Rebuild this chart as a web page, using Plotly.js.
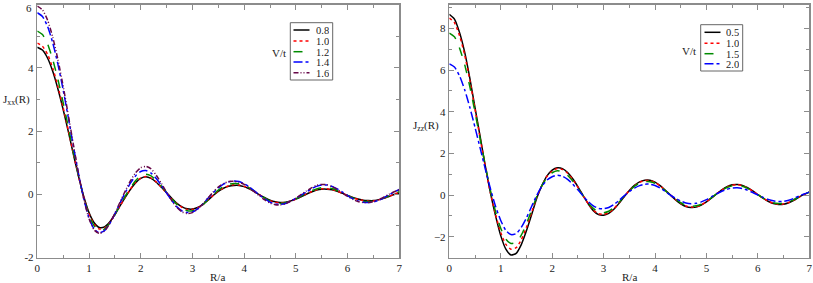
<!DOCTYPE html>
<html>
<head>
<meta charset="utf-8">
<script src="https://cdn.plot.ly/plotly-3.0.1.min.js"></script>
<style>html,body{margin:0;padding:0;background:#fff}#chart{width:813px;height:283px}</style>
</head>
<body>
<div id="chart"></div>
<script>
// R/a grid
var R = [0.0,0.1,0.2,0.3,0.4,0.5,0.6,0.7,0.8,0.9,
1.0,1.1,1.2,1.3,1.4,1.5,1.6,1.7,1.8,1.9,
2.0,2.1,2.2,2.3,2.4,2.5,2.6,2.7,2.8,2.9,
3.0,3.1,3.2,3.3,3.4,3.5,3.6,3.7,3.8,3.9,
4.0,4.1,4.2,4.3,4.4,4.5,4.6,4.7,4.8,4.9,
5.0,5.1,5.2,5.3,5.4,5.5,5.6,5.7,5.8,5.9,
6.0,6.1,6.2,6.3,6.4,6.5,6.6,6.7,6.8,6.9,
7.0];

// Left panel: Jxx(R) for V/t values
var jxxLabels = ["0.8","1.0","1.2","1.4","1.6"];
var jxxTicks = [-2, 0, 2, 4, 6];
var jxx_08 = [4.65,4.56,4.30,3.88,3.32,2.68,1.98,1.25,0.55,-0.08,
-0.58,-0.90,-1.05,-1.03,-0.88,-0.64,-0.37,-0.10,0.15,0.36,
0.50,0.55,0.50,0.38,0.22,0.05,-0.13,-0.29,-0.40,-0.46,
-0.47,-0.42,-0.32,-0.19,-0.04,0.09,0.19,0.25,0.28,0.28,
0.24,0.17,0.08,-0.02,-0.11,-0.19,-0.24,-0.26,-0.25,-0.21,
-0.15,-0.08,0.00,0.07,0.13,0.16,0.16,0.14,0.09,0.03,
-0.04,-0.10,-0.15,-0.19,-0.20,-0.20,-0.17,-0.13,-0.07,-0.01,
0.04];
var jxx_10 = [4.78,4.68,4.42,3.98,3.40,2.74,2.02,1.27,0.55,-0.10,
-0.62,-0.95,-1.10,-1.07,-0.90,-0.65,-0.37,-0.09,0.16,0.37,
0.51,0.56,0.51,0.39,0.22,0.04,-0.14,-0.30,-0.42,-0.48,
-0.48,-0.43,-0.33,-0.19,-0.04,0.10,0.20,0.27,0.30,0.29,
0.25,0.18,0.09,-0.02,-0.12,-0.20,-0.25,-0.27,-0.26,-0.22,
-0.15,-0.07,0.01,0.08,0.14,0.17,0.17,0.15,0.10,0.03,
-0.04,-0.11,-0.16,-0.20,-0.21,-0.21,-0.18,-0.13,-0.07,0.00,
0.06];
var jxx_12 = [5.16,5.05,4.75,4.25,3.62,2.90,2.12,1.32,0.56,-0.12,
-0.66,-1.00,-1.15,-1.10,-0.92,-0.65,-0.35,-0.06,0.20,0.43,
0.58,0.63,0.58,0.44,0.26,0.06,-0.14,-0.32,-0.45,-0.52,
-0.52,-0.45,-0.33,-0.18,-0.02,0.13,0.24,0.31,0.34,0.33,
0.28,0.20,0.10,-0.01,-0.12,-0.21,-0.27,-0.29,-0.27,-0.22,
-0.15,-0.06,0.03,0.11,0.17,0.21,0.21,0.18,0.12,0.04,
-0.04,-0.12,-0.18,-0.22,-0.23,-0.22,-0.18,-0.12,-0.05,0.02,
0.08];
var jxx_14 = [5.74,5.62,5.30,4.78,4.10,3.30,2.42,1.50,0.62,-0.15,
-0.75,-1.10,-1.22,-1.15,-0.93,-0.62,-0.28,0.05,0.35,0.58,
0.72,0.75,0.67,0.50,0.28,0.04,-0.20,-0.40,-0.53,-0.58,
-0.56,-0.46,-0.31,-0.13,0.05,0.20,0.32,0.39,0.42,0.40,
0.33,0.23,0.10,-0.03,-0.15,-0.25,-0.31,-0.32,-0.29,-0.22,
-0.13,-0.03,0.07,0.17,0.25,0.29,0.29,0.25,0.17,0.07,
-0.04,-0.14,-0.21,-0.25,-0.26,-0.24,-0.19,-0.11,-0.02,0.07,
0.15];
var jxx_16 = [5.95,5.83,5.50,4.96,4.25,3.42,2.50,1.55,0.63,-0.16,
-0.77,-1.13,-1.24,-1.16,-0.93,-0.60,-0.25,0.10,0.42,0.68,
0.84,0.88,0.80,0.60,0.34,0.06,-0.20,-0.42,-0.56,-0.61,
-0.58,-0.47,-0.31,-0.12,0.07,0.23,0.34,0.40,0.41,0.38,
0.31,0.20,0.07,-0.06,-0.18,-0.28,-0.33,-0.34,-0.30,-0.22,
-0.12,-0.01,0.10,0.20,0.28,0.31,0.30,0.24,0.15,0.04,
-0.07,-0.16,-0.23,-0.26,-0.26,-0.23,-0.17,-0.09,0.00,0.08,
0.14];

// Right panel: Jzz(R) for V/t values
var jzzLabels = ["0.5","1.0","1.5","2.0"];
var jzz_05 = [8.68,8.45,7.80,6.85,5.60,4.20,2.80,1.40,0.10,-1.00,
-1.95,-2.60,-2.88,-2.80,-2.38,-1.72,-0.95,-0.15,0.45,0.92,
1.20,1.31,1.27,1.08,0.78,0.40,-0.02,-0.42,-0.75,-0.94,
-0.97,-0.88,-0.68,-0.40,-0.08,0.22,0.46,0.63,0.71,0.71,
0.62,0.45,0.23,0.00,-0.23,-0.42,-0.55,-0.60,-0.58,-0.48,
-0.33,-0.14,0.06,0.25,0.40,0.49,0.51,0.46,0.35,0.20,
0.02,-0.15,-0.30,-0.41,-0.45,-0.44,-0.37,-0.25,-0.10,0.03,
0.14];
var jzz_10 = [8.50,8.28,7.65,6.72,5.50,4.12,2.74,1.36,0.10,-0.95,
-1.80,-2.37,-2.60,-2.53,-2.15,-1.55,-0.85,-0.12,0.45,0.90,
1.15,1.27,1.23,1.05,0.75,0.38,-0.03,-0.41,-0.72,-0.90,
-0.93,-0.85,-0.65,-0.38,-0.07,0.22,0.45,0.61,0.69,0.69,
0.60,0.44,0.22,0.00,-0.22,-0.40,-0.53,-0.58,-0.56,-0.47,
-0.32,-0.13,0.06,0.24,0.39,0.48,0.50,0.45,0.34,0.19,
0.02,-0.15,-0.29,-0.40,-0.44,-0.43,-0.36,-0.24,-0.10,0.03,
0.14];
var jzz_15 = [7.78,7.60,7.05,6.25,5.20,3.98,2.70,1.42,0.22,-0.80,
-1.60,-2.12,-2.33,-2.27,-1.93,-1.38,-0.73,-0.08,0.45,0.84,
1.07,1.17,1.12,0.95,0.67,0.33,-0.03,-0.37,-0.64,-0.81,
-0.85,-0.78,-0.60,-0.35,-0.06,0.20,0.42,0.57,0.64,0.64,
0.56,0.41,0.21,0.00,-0.20,-0.37,-0.49,-0.54,-0.52,-0.44,
-0.30,-0.12,0.06,0.22,0.36,0.44,0.46,0.42,0.32,0.18,
0.02,-0.14,-0.27,-0.37,-0.41,-0.40,-0.33,-0.22,-0.09,0.03,
0.14];
var jzz_20 = [6.30,6.15,5.72,5.05,4.20,3.25,2.25,1.25,0.30,-0.55,
-1.22,-1.70,-1.90,-1.85,-1.55,-1.10,-0.55,-0.02,0.42,0.72,
0.88,0.95,0.90,0.75,0.52,0.25,-0.04,-0.31,-0.52,-0.64,
-0.66,-0.60,-0.46,-0.26,-0.04,0.16,0.33,0.45,0.52,0.52,
0.46,0.34,0.17,0.00,-0.16,-0.29,-0.38,-0.42,-0.40,-0.33,
-0.22,-0.08,0.06,0.18,0.28,0.34,0.35,0.31,0.23,0.12,
0.00,-0.11,-0.21,-0.28,-0.31,-0.30,-0.25,-0.16,-0.05,0.05,
0.14];

var serif = "'Liberation Serif', 'Times New Roman', Times, serif";
var frame = "#8c8c8c";
var txt = "#222";
var W = 813, H = 283;

var colors = ["#000000", "#ff0000", "#008b00", "#0000ff", "#670748"];
var dashes = ["solid", "dot", "dash", "dashdot", "5px,2px,1px,2px,1px,2px"];

function tr(y, name, i, xa, ya) {
  return {x: R, y: y, name: name, mode: "lines", xaxis: xa, yaxis: ya, showlegend: false,
          line: {color: colors[i], width: 1.5, dash: dashes[i], shape: "spline", smoothing: 0.6}};
}
var data = [
  tr(jxx_08, jxxLabels[0], 0, "x", "y"),
  tr(jxx_10, jxxLabels[1], 1, "x", "y"),
  tr(jxx_12, jxxLabels[2], 2, "x", "y"),
  tr(jxx_14, jxxLabels[3], 3, "x", "y"),
  tr(jxx_16, jxxLabels[4], 4, "x", "y"),
  tr(jzz_05, jzzLabels[0], 0, "x2", "y2"),
  tr(jzz_10, jzzLabels[1], 1, "x2", "y2"),
  tr(jzz_15, jzzLabels[2], 2, "x2", "y2"),
  tr(jzz_20, jzzLabels[3], 3, "x2", "y2")
];

function xax(domain, anchor) {
  return {domain: domain, anchor: anchor, range: [0, 7], dtick: 1, tick0: 0,
    ticks: "inside", ticklen: 5, tickwidth: 1, tickcolor: frame,
    showline: true, linecolor: frame, linewidth: 1.5, mirror: "ticks",
    showgrid: false, zeroline: false, ticklabeloverflow: "allow",
    minor: {dtick: 0.5, ticks: "inside", ticklen: 3, tickcolor: frame, showgrid: false},
    tickfont: {family: serif, size: 11, color: txt}};
}
function yax(domain, anchor, range, dt) {
  return {domain: domain, anchor: anchor, range: range, dtick: dt, tick0: 0,
    ticks: "inside", ticklen: 5, tickwidth: 1, tickcolor: frame,
    showline: true, linecolor: frame, linewidth: 1.5, mirror: "ticks",
    showgrid: false, zeroline: false, ticklabeloverflow: "allow",
    minor: {dtick: dt / 2, ticks: "inside", ticklen: 3, tickcolor: frame, showgrid: false},
    tickfont: {family: serif, size: 11, color: txt}};
}
function px(x) { return x / W; }
function py(y) { return (H - y) / H; }

var shapes = [];
var annotations = [];
function ann(text, x, y, xanchor, size, h) {
  var a = {text: text, xref: "paper", yref: "paper", x: px(x), y: py(y), showarrow: false,
    xanchor: xanchor, yanchor: "middle", font: {family: serif, size: size || 11, color: txt}};
  if (h) { a.height = h; a.borderpad = 0; a.valign = "middle"; }
  annotations.push(a);
}
function legendBox(labels, box, rows, lineX, textX) {
  shapes.push({type: "rect", xref: "paper", yref: "paper", x0: px(box[0]), x1: px(box[1]),
    y0: py(box[2]), y1: py(box[3]), line: {color: "#666", width: 1}, fillcolor: "#fff", layer: "above"});
  for (var i = 0; i < labels.length; i++) {
    shapes.push({type: "line", xref: "paper", yref: "paper", x0: px(lineX[0]), x1: px(lineX[1]),
      y0: py(rows[i]), y1: py(rows[i]), line: {color: colors[i], width: 1.5, dash: dashes[i]}, layer: "above"});
    ann(labels[i], textX, rows[i], "left", 10.5, 10);
  }
}
legendBox(jxxLabels, [290.3, 332.7, 22.7, 80], [30, 41, 51.7, 62, 72.7], [293.5, 309.5], 314.5);
legendBox(jzzLabels, [700.7, 742.7, 24.7, 71], [32.3, 43.3, 53.7, 63.7], [704.5, 720.5], 724.5);

ann("V/t", 288, 53, "right");
ann("V/t", 698, 51, "right");
ann("R/a", 218, 277, "center");
ann("R/a", 629, 277, "center");
ann("J<sub>xx</sub>(R)", 0.5, 100, "left");
ann("J<sub>zz</sub>(R)", 410.5, 126, "left");
// top tick label of the left y axis, placed just below the frame top so it is not clipped
ann(String(jxxTicks[4]), 33.5, 8, "right");

var ydom = [(H - 257.5) / H, (H - 4.5) / H];
var yLeft = yax(ydom, "x", [-2, 6], 2);
yLeft.tickmode = "array";
yLeft.tickvals = jxxTicks;
yLeft.ticktext = jxxTicks.map(function (v, i) { return i === jxxTicks.length - 1 ? "" : String(v); });
var layout = {
  width: W, height: H, margin: {l: 0, r: 0, t: 0, b: 0},
  paper_bgcolor: "#fff", plot_bgcolor: "#fff", showlegend: false,
  xaxis: xax([37.3 / W, 399.3 / W], "y"),
  yaxis: yLeft,
  xaxis2: xax([449.3 / W, 809.3 / W], "y2"),
  yaxis2: yax(ydom, "x2", [-3, 9.15], 2),
  shapes: shapes,
  annotations: annotations
};
Plotly.newPlot("chart", data, layout, {displayModeBar: false, staticPlot: true});
</script>
</body>
</html>
